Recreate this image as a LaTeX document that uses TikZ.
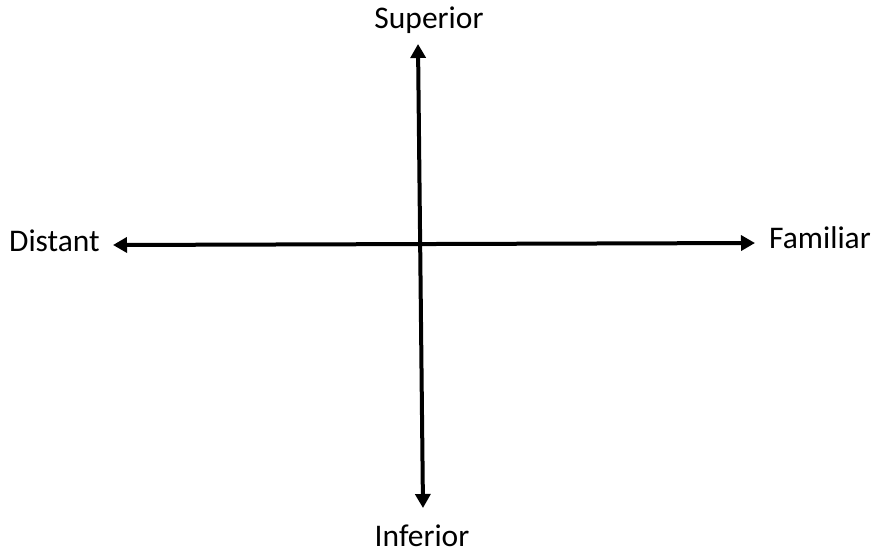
\documentclass[tikz,border=0pt]{standalone}
\usepackage{fontspec}
\setmainfont{Carlito}
\usetikzlibrary{arrows.meta,positioning}
\tikzset{
  axis/.style={line width=4pt,{Triangle[length=14pt,width=15pt]}-{Triangle[length=14pt,width=15pt]}},
  axislabel/.style={font=\fontsize{31.5}{36}\selectfont,inner sep=0pt}
}
\begin{document}
\begin{tikzpicture}[x=1pt,y=-1pt]
  \useasboundingbox (0,0) rectangle (876,550);
  % axis end points
  \coordinate (left) at (113,245);
  \coordinate (right) at (755,243);
  \coordinate (top) at (418,44);
  \coordinate (bottom) at (423,508);

  \draw[axis] (left) -- (right);
  \draw[axis] (top) -- (bottom);

  \node[axislabel,anchor=base east] (distant) at (100,251) {Distant};
  \node[axislabel,anchor=base west] (familiar) at (769,248) {Familiar};
  \node[axislabel,anchor=base] (superior) at (429,28) {Superior};
  \node[axislabel,anchor=base] (inferior) at (422,546) {Inferior};
\end{tikzpicture}
\end{document}
